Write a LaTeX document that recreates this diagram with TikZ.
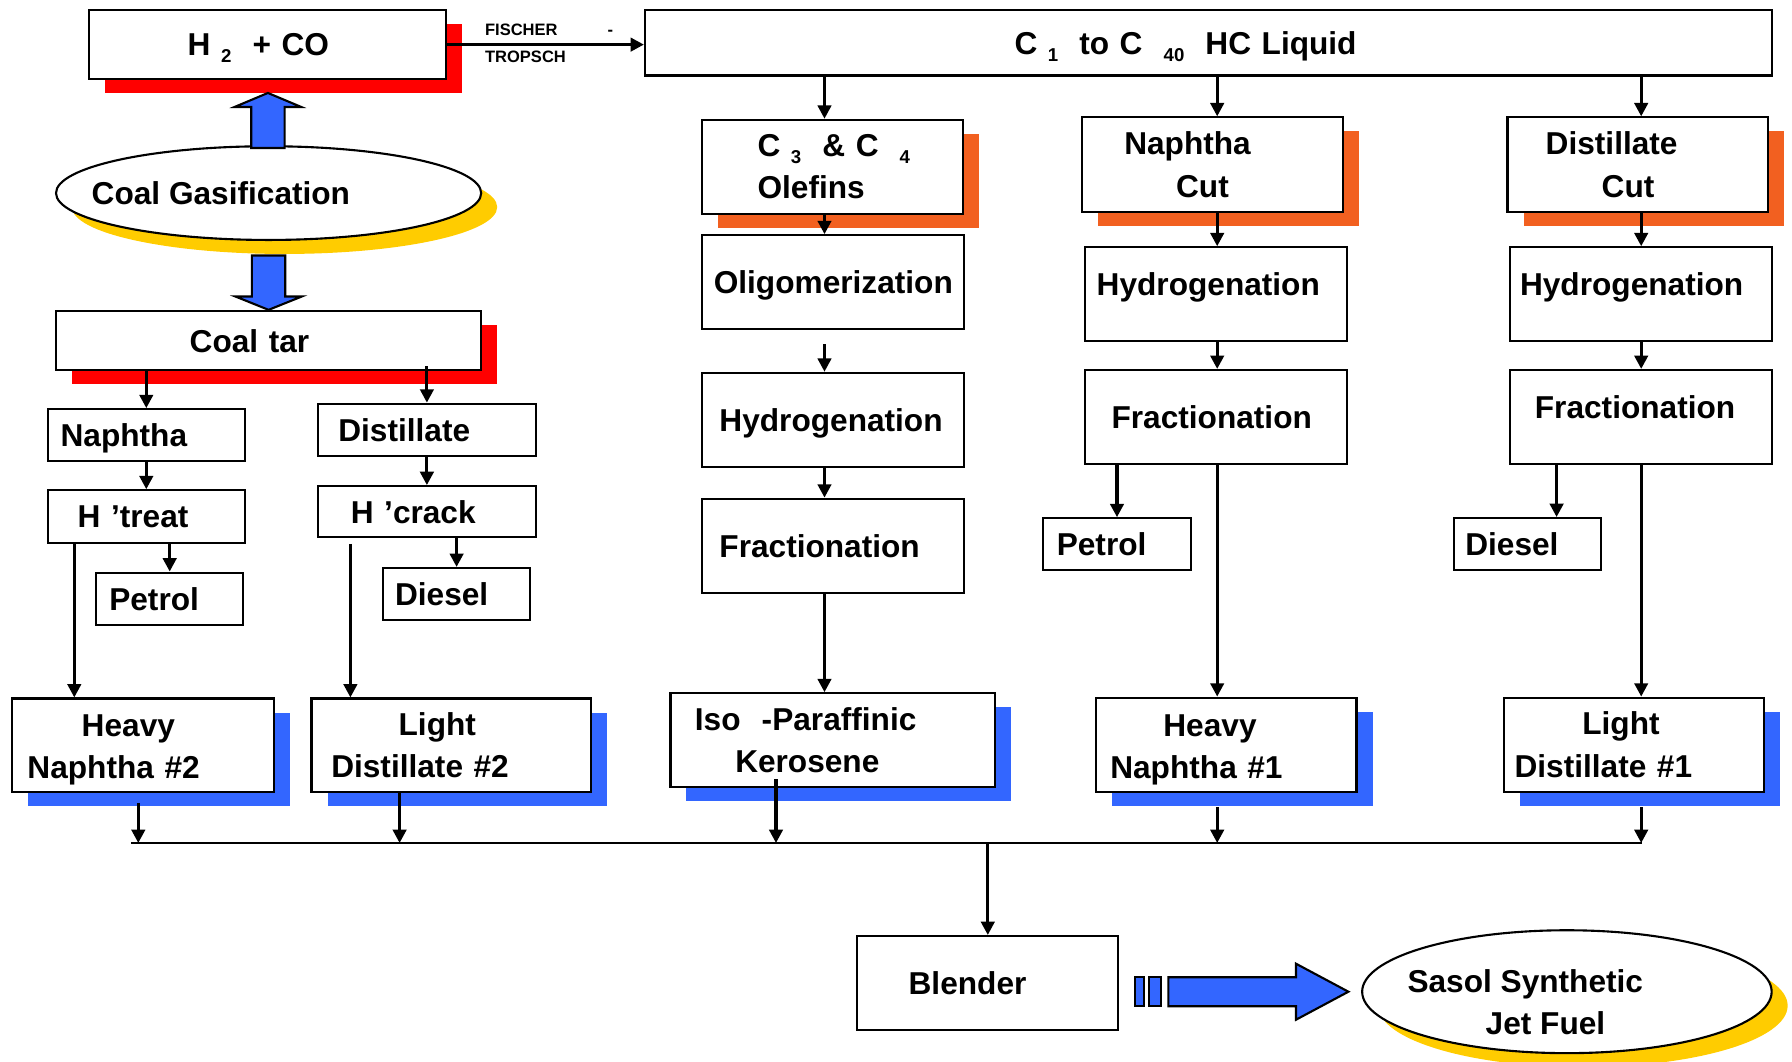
\documentclass[tikz,border=0pt]{standalone}
\usepackage{fontspec}
\setmainfont{Liberation Sans}
\usetikzlibrary{arrows.meta}
\usetikzlibrary{shapes.geometric}
\usetikzlibrary{shadows}

\definecolor{shred}{RGB}{255,0,0}
\definecolor{shorange}{RGB}{242,96,32}
\definecolor{shblue}{RGB}{51,102,255}
\definecolor{shyellow}{RGB}{255,204,0}

\newcommand{\lowsub}[1]{\raisebox{-2pt}{\fontsize{5.3}{6}\selectfont #1}}

\begin{document}
\begin{tikzpicture}[
  box/.style={draw, fill=white, line width=0.6pt, inner sep=0pt, text depth=0pt, font=\bfseries\fontsize{9}{12}\selectfont},
  twoline/.style={text depth={}},
  sz/.style 2 args={minimum width=#1cm, minimum height=#2cm},
  lbox/.style={align=left, text width=#1cm},
  oval/.style={ellipse, draw, fill=white, line width=0.6pt, inner sep=0pt},
  shad/.style={drop shadow={shadow xshift=0.16cm, shadow yshift=-0.14cm, opacity=1, fill=#1}},
  lbl/.style={font=\bfseries\fontsize{9}{12}\selectfont, align=left, inner sep=0pt},
  ftlbl/.style={font=\bfseries\fontsize{4.7}{6}\selectfont, inner sep=0pt},
  arr/.style={line width=0.9pt, -{Triangle[length=3.8pt,width=3.8pt]}},
  barrow/.style={draw=black, fill=shblue, line width=0.6pt}
]
\useasboundingbox (0,0) rectangle (17.92,-10.62);

% gas side
\node[box, sz={3.57}{0.686}, lbox=1.604, shad=shred] (syngas) at (2.679,-0.446) {H \lowsub{2}\ \ + CO};
\node[oval, sz={4.252}{0.937}, shad=shyellow,
      label={[lbl, xshift=-0.477cm]center:Coal Gasification}] (gasif) at (2.686,-1.931) {};
\node[box, sz={4.252}{0.594}, lbox=1.578, shad=shred] (coaltar) at (2.686,-3.406) {Coal tar};

\draw[barrow] ([yshift=-0.13cm]syngas.south) -- ++(-0.333,-0.14) -- ++(0.166,0) -- ++(0,-0.41)
  -- ++(0.334,0) -- ++(0,0.41) -- ++(0.166,0) -- cycle;
\draw[barrow] (coaltar.north) -- ++(-0.333,0.134) -- ++(0.166,0) -- ++(0,0.41)
  -- ++(0.334,0) -- ++(0,-0.41) -- ++(0.166,0) -- cycle;

% coal tar workup
\node[box, sz={1.966}{0.514}, lbox=1.714] (ctnaph) at (1.463,-4.349) {Naphtha};
\node[box, sz={1.966}{0.526}, lbox=1.372] (htreat) at (1.463,-5.166) {H ’treat};
\node[box, sz={1.474}{0.526}, lbox=1.208] (ctpetrol) at (1.697,-5.989) {Petrol};
\node[box, sz={2.183}{0.52}, lbox=1.771] (ctdist) at (4.269,-4.297) {Distillate};
\node[box, sz={2.183}{0.511}, lbox=1.521] (hcrack) at (4.269,-5.117) {H ’crack};
\node[box, sz={1.474}{0.52}, lbox=1.23] (ctdiesel) at (4.566,-5.940) {Diesel};

\node[box, text depth=11pt, sz={2.617}{0.934}, lbox=2.309, shad=shblue] (hn2) at (1.429,-7.452) {\hspace*{0.543cm}Heavy\\Naphtha \#2};
\node[box, twoline, sz={2.791}{0.934}, lbox=2.397, shad=shblue] (ld2) at (4.511,-7.452) {\hspace*{0.674cm}Light\\Distillate \#2};

% Fischer-Tropsch liquid
\node[box, sz={11.27}{0.651}, lbox=3.88] (hcliq) at (12.085,-0.429) {C \lowsub{1}\ \ to C\ \ \lowsub{40}\ \ HC Liquid};
\draw[arr] (syngas.east) -- (syngas.east -| hcliq.west);
\node[ftlbl, anchor=west] (fis) at (4.844,-0.294) {FISCHER\hspace{0.5cm}-};
\node[ftlbl, anchor=west] (trop) at (4.844,-0.567) {TROPSCH};

\coordinate (c1) at (8.245,0);
\coordinate (c2) at (12.172,0);
\coordinate (c3) at (16.412,0);

% olefins
\node[box, twoline, sz={2.613}{0.94}, lbox=1.497, shad=shorange] (olef) at (8.324,-1.668) {C~\lowsub{3}~~\&~C~~\lowsub{4}\\Olefins};
\node[box, sz={2.62}{0.94}] (olig) at (8.333,-2.822) {Oligomerization};
\node[box, sz={2.62}{0.94}, lbox=2.277] (hyd1) at (8.333,-4.198) {Hydrogenation};
\node[box, sz={2.62}{0.94}, lbox=2.277] (frac1) at (8.333,-5.457) {Fractionation};
\node[box, twoline, sz={3.241}{0.941}, lbox=2.751, shad=shblue] (iso) at (8.325,-7.403) {Iso~~-Paraffinic\\\hspace*{0.403cm}Kerosene};

% naphtha cut
\node[box, twoline, sz={2.609}{0.946}, lbox=1.765, shad=shorange] (naphcut) at (12.125,-1.647) {Naphtha\\\hspace*{0.519cm}Cut};
\node[box, sz={2.617}{0.934}, lbox=2.388, text depth=0.19cm] (hyd2) at (12.161,-2.94) {Hydrogenation};
\node[box, sz={2.617}{0.94}, lbox=2.091] (frac2) at (12.161,-4.17) {Fractionation};
\node[box, sz={1.474}{0.517}, lbox=1.204] (ftpetrol) at (11.17,-5.441) {Petrol};
\node[box, text depth=11pt, sz={2.608}{0.941}, lbox=2.316, shad=shblue] (hn1) at (12.261,-7.447) {\hspace*{0.531cm}Heavy\\Naphtha \#1};

% distillate cut
\node[box, twoline, sz={2.606}{0.946}, lbox=1.842, shad=shorange] (distcut) at (16.378,-1.647) {Distillate\\\hspace*{0.56cm}Cut};
\node[box, sz={2.62}{0.934}, lbox=2.419, text depth=0.19cm] (hyd3) at (16.41,-2.94) {Hydrogenation};
\node[box, sz={2.62}{0.94}, lbox=2.122, text depth=0.2cm] (frac3) at (16.41,-4.17) {Fractionation};
\node[box, sz={1.474}{0.52}, lbox=1.246] (ftdiesel) at (15.276,-5.441) {Diesel};
\node[box, twoline, sz={2.607}{0.941}, lbox=2.387, shad=shblue] (ld1) at (16.339,-7.447) {\hspace*{0.678cm}Light\\Distillate \#1};

% blending
\node[box, sz={2.611}{0.937}, lbox=1.583] (blender) at (9.878,-9.829) {Blender};
\node[oval, sz={4.095}{1.229}, shad=shyellow,
      label={[lbl, xshift=-0.416cm, yshift=-0.106cm]center:Sasol Synthetic\\\hspace*{0.782cm}Jet Fuel}] (sasol) at (15.669,-9.917) {};

\begin{scope}[shift={(blender.east |- sasol.west)}]
  \draw[barrow] (0.158,-0.145) rectangle (0.243,0.145);
  \draw[barrow] (0.30,-0.145) rectangle (0.418,0.145);
  \draw[barrow] (0.489,-0.145) -- (1.766,-0.145) -- (1.766,-0.28) -- (2.29,0)
    -- (1.766,0.28) -- (1.766,0.145) -- (0.489,0.145) -- cycle;
\end{scope}

% flows, coal tar side
\draw[arr] (coaltar.south -| ctnaph.north) -- (ctnaph.north);
\draw[arr] ([yshift=0.05cm]coaltar.south -| ctdist.north) -- (ctdist.north);
\draw[arr] (ctnaph) -- (htreat);
\draw[arr] (ctdist) -- (hcrack);
\draw[arr] (htreat.south -| ctpetrol.north) -- (ctpetrol.north);
\draw[arr] (hcrack.south -| ctdiesel.north) -- (ctdiesel.north);
\draw[arr] ([xshift=-0.72cm]htreat.south) -- ([xshift=-0.72cm]htreat.south |- hn2.north);
\draw[arr] ([xshift=-0.765cm,yshift=-0.056cm]hcrack.south) -- ([xshift=-0.765cm]hcrack.south |- ld2.north);

% flows, FT side
\draw[arr] (hcliq.south -| c1) -- (olef.north -| c1);
\draw[arr] (olef.south -| c1) -- (olig.north -| c1);
\draw[arr] ([yshift=-0.14cm]olig.south -| c1) -- (hyd1.north -| c1);
\draw[arr] (hyd1.south -| c1) -- (frac1.north -| c1);
\draw[arr] (frac1.south -| c1) -- (iso.north -| c1);

\draw[arr] (hcliq.south -| c2) -- (naphcut.north -| c2);
\draw[arr] (naphcut.south -| c2) -- (hyd2.north -| c2);
\draw[arr] (hyd2.south -| c2) -- (frac2.north -| c2);
\draw[arr] (frac2.south -| ftpetrol.north) -- (ftpetrol.north);
\draw[arr] (frac2.south -| c2) -- (hn1.north -| c2);

\draw[arr] (hcliq.south -| c3) -- (distcut.north -| c3);
\draw[arr] (distcut.south -| c3) -- (hyd3.north -| c3);
\draw[arr] (hyd3.south -| c3) -- (frac3.north -| c3);
\draw[arr] ([xshift=0.29cm]ftdiesel.north |- frac3.south) -- ([xshift=0.29cm]ftdiesel.north);
\draw[arr] (frac3.south -| c3) -- (ld1.north -| c3);

% collecting line to the blender
\coordinate (busW) at (1.314,-8.43);
\coordinate (busE) at (16.424,-8.43);
\draw[line width=0.8pt] (busW) -- (busE);
\draw[arr] ([xshift=-0.046cm,yshift=-0.1cm]hn2.south) -- ([xshift=-0.046cm]hn2.south |- busW);
\draw[arr] ([xshift=-0.515cm]ld2.south) -- ([xshift=-0.515cm]ld2.south |- busW);
\draw[arr] ([xshift=-0.565cm,yshift=0.09cm]iso.south) -- ([xshift=-0.565cm]iso.south |- busW);
\draw[arr] ([yshift=-0.14cm]hn1.south -| c2) -- (busW -| c2);
\draw[arr] ([yshift=-0.14cm]ld1.south -| c3) -- (busW -| c3);
\draw[arr] (busW -| blender.north) -- (blender.north);

\end{tikzpicture}
\end{document}
